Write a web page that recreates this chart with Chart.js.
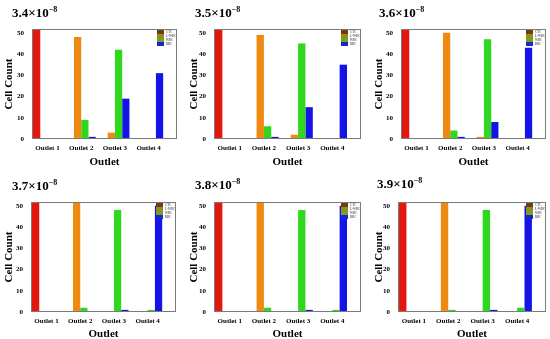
<!DOCTYPE html>
<html>
<head>
<meta charset="utf-8">
<script src="https://cdn.jsdelivr.net/npm/chart.js@4.4.1/dist/chart.umd.min.js"></script>
<style>
  body { margin: 0; background: #fff; }
  #wrap { position: relative; width: 550px; height: 339px; overflow: hidden; font-family: "Liberation Serif", "Times New Roman", serif; }
  .panel { position: absolute; }
  .ttl { position: absolute; font-weight: bold; font-size: 13px; line-height: 13px; white-space: nowrap; color: #000; }
  .ttl sup { font-size: 8px; vertical-align: 0; position: relative; top: -5px; }
</style>
</head>
<body>
<div id="wrap"></div>
<script>
const outlets = ['Outlet 1', 'Outlet 2', 'Outlet 3', 'Outlet 4'];
const cellTypes = ['CTC', 'L-WBC', 'WBC', 'RBC'];
const panelTitles = ['3.4', '3.5', '3.6', '3.7', '3.8', '3.9']; // ×10^-8
const yTicks = [0, 10, 20, 30, 40, 50];

// counts per outlet, one array per cell type (red, orange, green, blue)
const counts34 = [[52, 0, 0, 0], [0, 48, 3, 0], [0, 9, 42, 0], [0, 1, 19, 31]];
const counts35 = [[52, 0, 0, 0], [0, 49, 2, 0], [0, 6, 45, 0], [0, 1, 15, 35]];
const counts36 = [[52, 0, 0, 0], [0, 50, 1, 0], [0, 4, 47, 0], [0, 1, 8, 43]];
const counts37 = [[52, 0, 0, 0], [0, 52, 0, 0], [0, 2, 48, 1], [0, 0, 1, 50]];
const counts38 = [[52, 0, 0, 0], [0, 52, 0, 0], [0, 2, 48, 1], [0, 0, 1, 50]];
const counts39 = [[52, 0, 0, 0], [0, 52, 0, 0], [0, 1, 48, 2], [0, 0, 1, 50]];
const allCounts = [counts34, counts35, counts36, counts37, counts38, counts39];

const barColors = ['#e3170d', '#ee8a12', '#2fd81f', '#1414e6'];
const legendColors = ['#6b3f12', '#9a8a1a', '#6fa326', '#2222cc'];

// panel placement (canvas box + plot box edges inside it)
const layout = [
  { x: 0,   y: 0,   w: 185, h: 170, left: 32, right: 177, top: 29, bottom: 139, tx: 12, ty: 6 },
  { x: 185, y: 0,   w: 185, h: 170, left: 29, right: 176, top: 29, bottom: 139, tx: 10, ty: 6 },
  { x: 370, y: 0,   w: 180, h: 170, left: 31, right: 176, top: 29, bottom: 139, tx: 9,  ty: 6 },
  { x: 0,   y: 170, w: 185, h: 172, left: 31, right: 176, top: 32, bottom: 142, tx: 12, ty: 9 },
  { x: 185, y: 170, w: 185, h: 172, left: 29, right: 176, top: 32, bottom: 142, tx: 10, ty: 8 },
  { x: 370, y: 170, w: 180, h: 172, left: 28, right: 176, top: 32, bottom: 142, tx: 7,  ty: 7 }
];

const serif = '"Liberation Serif", "Times New Roman", serif';

const framePlugin = {
  id: 'frame',
  afterDatasetsDraw(chart) {
    const a = chart.chartArea;
    const c = chart.ctx;
    c.save();
    c.strokeStyle = '#7a7a7a';
    c.lineWidth = 1;
    c.strokeRect(a.left + 0.5, a.top + 0.5, a.right - a.left - 1, a.bottom - a.top - 1);
    c.restore();
  }
};

// tiny legend tucked in the top right corner of the plot
const cornerLegend = {
  id: 'cornerLegend',
  afterDraw(chart) {
    const a = chart.chartArea;
    const c = chart.ctx;
    const bw = 19, rh = 4;
    const x0 = a.right - bw - 1, y0 = a.top + 1;
    c.save();
    c.fillStyle = '#fff';
    c.fillRect(x0, y0, bw, rh * cellTypes.length);
    c.font = 'bold 3px ' + serif;
    c.textBaseline = 'middle';
    cellTypes.forEach((name, i) => {
      c.fillStyle = legendColors[i];
      c.fillRect(x0, y0 + i * rh, 7, rh);
      c.fillStyle = '#666';
      c.fillText(name, x0 + 9, y0 + i * rh + rh / 2);
    });
    c.restore();
  }
};

const wrap = document.getElementById('wrap');

layout.forEach((p, k) => {
  const box = document.createElement('div');
  box.className = 'panel';
  box.style.left = p.x + 'px';
  box.style.top = p.y + 'px';
  box.style.width = p.w + 'px';
  box.style.height = p.h + 'px';
  const cv = document.createElement('canvas');
  box.appendChild(cv);
  const ttl = document.createElement('div');
  ttl.className = 'ttl';
  ttl.style.left = p.tx + 'px';
  ttl.style.top = p.ty + 'px';
  ttl.innerHTML = panelTitles[k] + '×10<sup>−8</sup>';
  box.appendChild(ttl);
  wrap.appendChild(box);

  const counts = allCounts[k];

  new Chart(cv, {
    type: 'bar',
    data: {
      datasets: counts.map((vals, i) => ({
        label: cellTypes[i],
        data: vals.map((v, j) => ({ x: j + 1, y: v })),
        backgroundColor: barColors[i],
        borderWidth: 0,
        categoryPercentage: 0.86,
        barPercentage: 1
      }))
    },
    options: {
      responsive: true,
      maintainAspectRatio: false,
      animation: false,
      layout: { padding: { top: p.top, right: p.w - p.right, left: 0, bottom: 0 } },
      plugins: {
        legend: { display: false },
        tooltip: { enabled: false }
      },
      scales: {
        x: {
          type: 'linear',
          offset: false,
          min: 0.54,
          max: 4.84,
          afterBuildTicks: s => { s.ticks = outlets.map((_, i) => ({ value: i + 1 })); },
          afterFit: s => { s.height = p.h - p.bottom; },
          grid: { display: false, drawTicks: false },
          border: { display: false },
          ticks: {
            padding: 5,
            autoSkip: false,
            maxRotation: 0,
            color: '#000',
            font: { family: serif, size: 7, weight: 'bold' },
            callback: v => outlets[v - 1]
          },
          title: {
            display: true,
            text: 'Outlet',
            color: '#000',
            padding: { top: 0, bottom: 1 },
            font: { family: serif, size: 11, weight: 'bold' }
          }
        },
        y: {
          min: 0,
          max: 51.8,
          afterBuildTicks: s => { s.ticks = yTicks.map(v => ({ value: v })); },
          afterFit: s => { s.width = p.left; },
          grid: { display: false, drawTicks: false },
          border: { display: false },
          ticks: {
            padding: 8,
            color: '#000',
            font: { family: serif, size: 7, weight: 'bold' }
          },
          title: {
            display: true,
            text: 'Cell Count',
            color: '#000',
            padding: { top: 3, bottom: 0 },
            font: { family: serif, size: 11, weight: 'bold' }
          }
        }
      }
    },
    plugins: [framePlugin, cornerLegend]
  });
});
</script>
</body>
</html>
